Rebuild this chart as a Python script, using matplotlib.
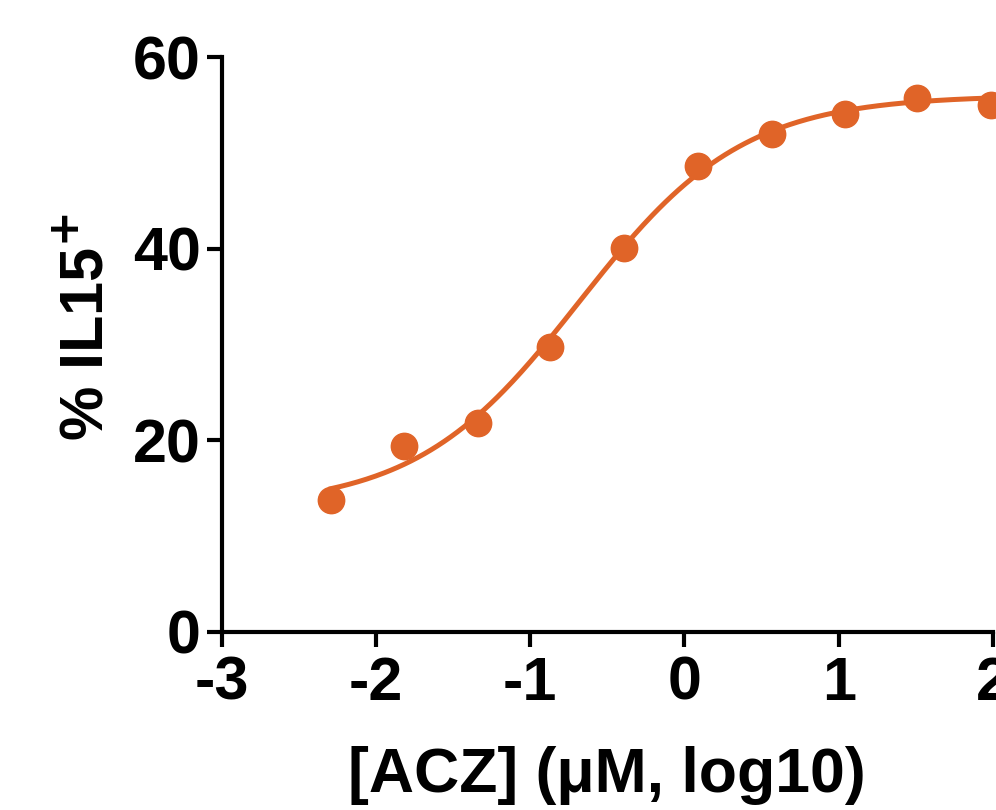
import numpy as np
import matplotlib.pyplot as plt

plt.rcParams['font.family'] = ['Liberation Sans', 'DejaVu Sans']
plt.rcParams['font.weight'] = 'bold'

# data points (log10 uM, % IL15+)
log_conc = [-2.29, -1.82, -1.34, -0.87, -0.39, 0.09, 0.565, 1.04, 1.51, 1.99]
pct_il15 = [13.8, 19.4, 21.8, 29.7, 40.1, 48.6, 52.0, 54.1, 55.7, 55.0]

# 4PL fit parameters
bottom = 13.0
top = 56.0
log_ec50 = -0.68
hill = 0.82

color = '#E06428'

fig = plt.figure(figsize=(9.96, 8.10), dpi=100)
ax = fig.add_axes([221.7 / 996, 1 - 632 / 810, (993 - 221.7) / 996, (632 - 57) / 810])

xfit = np.linspace(min(log_conc), 2, 300)
yfit = bottom + (top - bottom) / (1 + 10 ** ((log_ec50 - xfit) * hill))
ax.plot(xfit, yfit, color=color, lw=3.6, clip_on=False, zorder=2)
ax.plot(log_conc, pct_il15, 'o', color=color, ms=19, clip_on=False, zorder=3)

ax.set_xlim(-3, 2)
ax.set_ylim(0, 60)
ax.set_xticks([-3, -2, -1, 0, 1, 2])
ax.set_xticklabels(['-3', '-2', '-1', '0', '1', '2'])
ax.set_yticks([0, 20, 40, 60])

for s in ['top', 'right']:
    ax.spines[s].set_visible(False)
for s in ['left', 'bottom']:
    ax.spines[s].set_linewidth(3)
ax.tick_params(width=3, length=11, labelsize=44, pad=4)
ax.tick_params(axis='x', pad=6)

ax.set_xlabel('[ACZ] (μM, log10)', fontsize=45, fontweight='bold', labelpad=24)
ax.set_ylabel('% IL15$^{\\mathbf{+}}$', fontsize=44, fontweight='bold')
ax.yaxis.set_label_coords(-0.137, 0.53)

plt.savefig('out.png', dpi=100)
